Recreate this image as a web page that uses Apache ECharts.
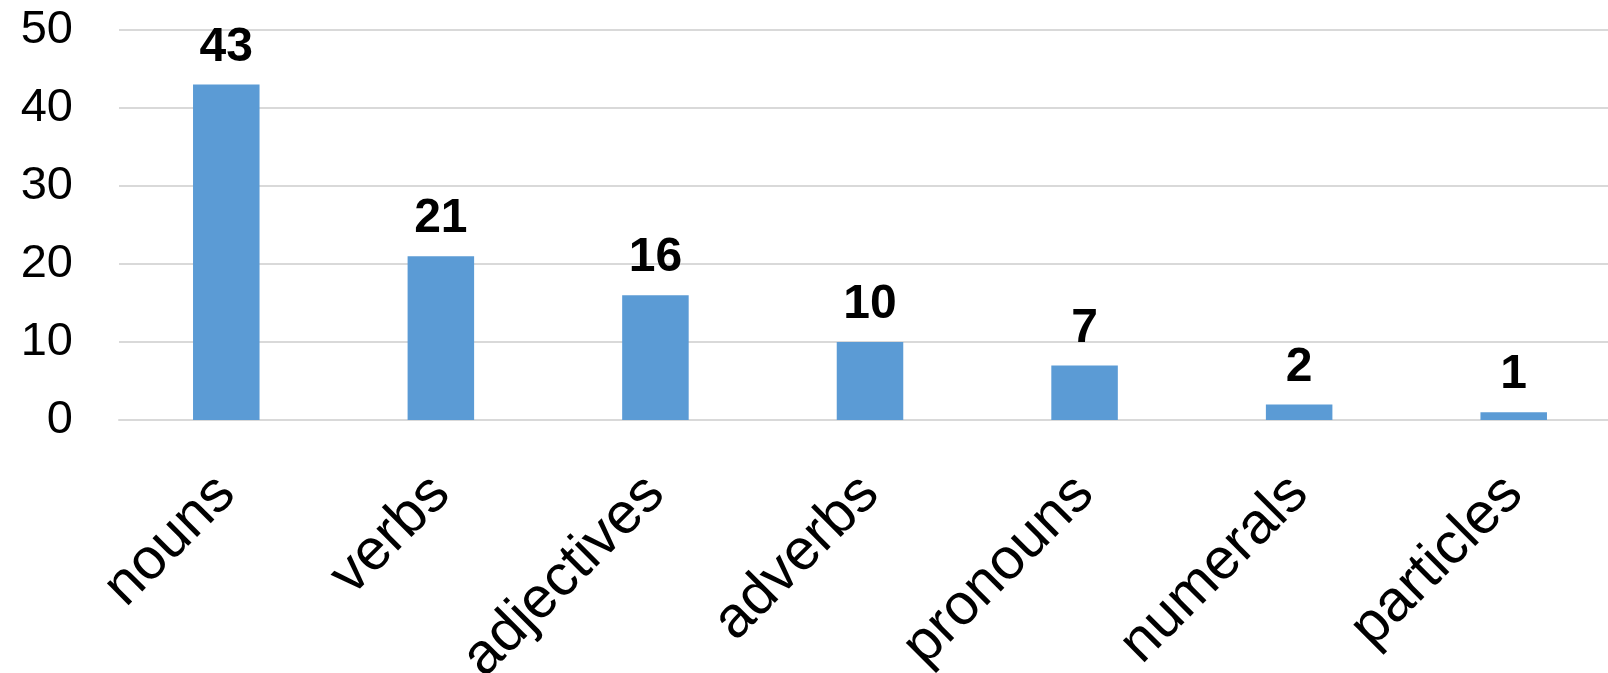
<!DOCTYPE html>
<html>
<head>
<meta charset="utf-8">
<script src="https://cdn.jsdelivr.net/npm/echarts@6/dist/echarts.min.js"></script>
<style>
html,body{margin:0;padding:0;background:#fff;}
#chart{width:1608px;height:673px;}
</style>
</head>
<body>
<div id="chart"></div>
<script>
var categories = ['nouns', 'verbs', 'adjectives', 'adverbs', 'pronouns', 'numerals', 'particles'];
var values = [43, 21, 16, 10, 7, 2, 1];
var yTicks = [0, 10, 20, 30, 40, 50];

var chart = echarts.init(document.getElementById('chart'));
chart.setOption({
  animation: false,
  grid: { left: 119, right: -13, top: 30, bottom: 253, containLabel: false, outerBoundsMode: 'none' },
  xAxis: {
    type: 'category',
    data: categories,
    axisLine: { show: true, lineStyle: { color: '#d9d9d9', width: 2 } },
    axisTick: { show: false },
    axisLabel: {
      rotate: 45,
      interval: 0,
      margin: 65,
      verticalAlign: 'middle',
      padding: [22, 0, 0, 0],
      fontFamily: 'Liberation Sans, Arial, sans-serif',
      fontSize: 58,
      color: '#000'
    }
  },
  yAxis: {
    type: 'value',
    min: yTicks[0],
    max: yTicks[yTicks.length - 1],
    interval: 10,
    axisLine: { show: false },
    axisTick: { show: false },
    splitLine: { lineStyle: { color: '#d9d9d9', width: 2 } },
    axisLabel: {
      margin: 46,
      padding: [0, 0, 8, 0],
      fontFamily: 'Liberation Sans, Arial, sans-serif',
      fontSize: 47,
      color: '#000'
    }
  },
  series: [{
    type: 'bar',
    data: values,
    barWidth: '31%',
    itemStyle: { color: '#5b9bd5' },
    label: {
      show: true,
      position: 'top',
      distance: 13,
      fontFamily: 'Liberation Sans, Arial, sans-serif',
      fontWeight: 'bold',
      fontSize: 48,
      color: '#000'
    }
  }]
});
</script>
</body>
</html>
